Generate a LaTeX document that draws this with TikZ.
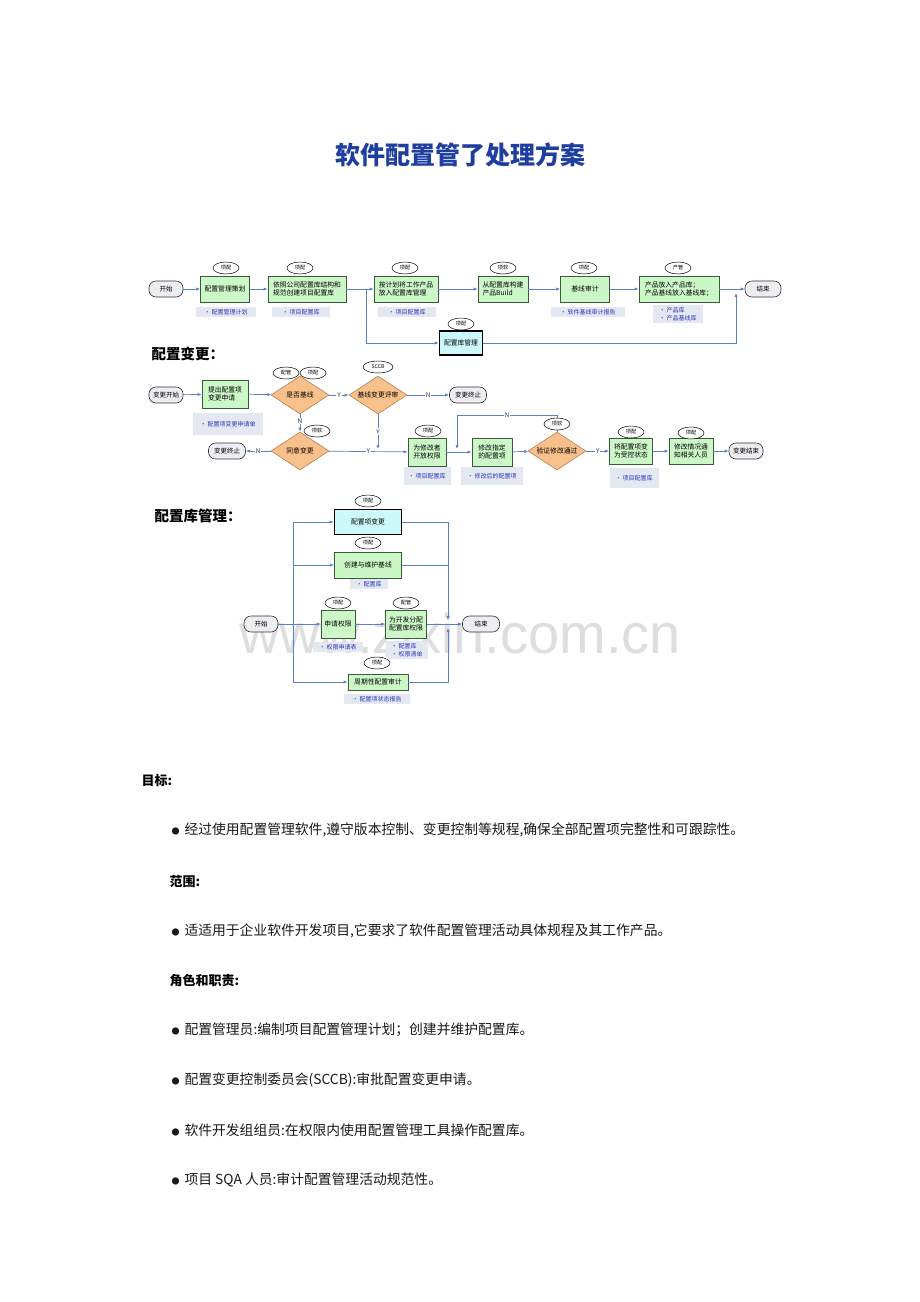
\documentclass[tikz,border=0pt]{standalone}
\usepackage{fontspec}
\setmainfont{Noto Sans CJK SC}
\newfontfamily\wmfont{Liberation Sans}
\usetikzlibrary{shapes.geometric,arrows.meta}

\definecolor{boxgreen}{HTML}{CCF8C8}
\definecolor{boxline}{HTML}{3A5A3A}
\definecolor{boxcyan}{HTML}{CCFAFC}
\definecolor{decfill}{HTML}{F8C08A}
\definecolor{decline}{HTML}{B88050}
\definecolor{flowblue}{HTML}{5A82C4}
\definecolor{notebg}{HTML}{E4E8F0}
\definecolor{notetext}{HTML}{2A35C0}
\definecolor{termfill}{HTML}{EDEDF2}
\definecolor{titleblue}{HTML}{1E3FA0}

\tikzset{
  task/.style={draw=boxline, fill=boxgreen, line width=0.7pt, minimum height=26pt,
    inner sep=1.5pt, align=left, font=\fontsize{6.8}{8.5}\selectfont},
  store/.style={draw=black, fill=boxcyan, line width=1.6pt, minimum height=24pt,
    inner sep=1.5pt, font=\fontsize{6.8}{8.5}\selectfont},
  decide/.style={diamond, draw=decline, fill=decfill, line width=0.6pt, aspect=1.5,
    inner sep=0pt, minimum width=58pt, minimum height=38pt, font=\fontsize{6.8}{8.5}\selectfont},
  term/.style={draw=black!80, fill=termfill, line width=0.6pt, rounded corners=7pt,
    minimum width=34pt, minimum height=16pt, inner sep=1pt, font=\fontsize{6.5}{8}\selectfont},
  role/.style={ellipse, draw=black, fill=white, line width=0.5pt, minimum width=26pt,
    minimum height=12pt, inner sep=0pt, font=\fontsize{5.2}{6}\selectfont},
  memo/.style={fill=notebg, text=notetext, align=left, inner sep=2pt,
    font=\fontsize{6}{8}\selectfont},
  flow/.style={draw=flowblue, line width=0.7pt, -{Latex[length=4pt,width=3.2pt]}},
  link/.style={draw=flowblue, line width=0.7pt},
  yn/.style={fill=white, inner sep=0.8pt, text=black!75, font=\fontsize{6.5}{7}\selectfont},
  heading/.style={anchor=west, font=\fontsize{14.5}{16}\selectfont\bfseries},
  body/.style={anchor=west, text=black!90, font=\fontsize{13.8}{15}\selectfont},
  bodyhead/.style={anchor=west, font=\fontsize{13}{15}\selectfont\bfseries}
}
\newcommand{\dotitem}{{\fontsize{8}{8}\selectfont ●}\hspace{5pt}}

\begin{document}
\begin{tikzpicture}[x=1pt,y=-1pt]
\useasboundingbox[fill=white] (0,0) rectangle (920,1302);

% watermark
\node[text=black!13, font=\wmfont\fontsize{56}{60}\selectfont] (wm) at (460,633) {www.zixin.com.cn};

\node[text=titleblue, font=\fontsize{25}{28}\selectfont\bfseries] (title) at (460,155) {软件配置管了处理方案};

% --- process overview
\node[term] (start) at (166,289) {开始};
\node[task, minimum width=49pt] (plan) at (225,289) {配置管理策划};
\node[task, minimum width=78pt] (create) at (307,289) {依照公司配置库结构和\\规范创建项目配置库};
\node[task, minimum width=64pt] (putin) at (406,289) {按计划将工作产品\\放入配置库管理};
\node[task, minimum width=50pt] (build) at (503,289) {从配置库构建\\产品Build};
\node[task, minimum width=49pt, align=center] (audit) at (585,289) {基线审计};
\node[task, minimum width=80pt] (release) at (679,289) {产品放入产品库；\\产品基线放入基线库；};
\node[term, minimum width=36pt] (finish) at (763,289) {结束};
\node[store, minimum width=43pt] (lib) at (461,343) {配置库管理};

\node[role] (r1) at (226,268) {项配};
\node[role] (r2) at (300,268) {项配};
\node[role] (r3) at (405,268) {项配};
\node[role] (r4) at (503,268) {项软};
\node[role] (r5) at (584,268) {项配};
\node[role] (r6) at (678,268) {产管};
\node[role] (r7) at (461,324) {项配};

\node[memo, minimum width=60pt] (m1) at (226,312) {• 配置管理计划};
\node[memo, minimum width=58pt] (m2) at (301,312) {• 项目配置库};
\node[memo, minimum width=58pt] (m3) at (407,312) {• 项目配置库};
\node[memo, minimum width=74pt] (m4) at (588,312) {• 软件基线审计报告};
\node[memo, minimum width=50pt] (m5) at (678,314) {• 产品库\\• 产品基线库};

\coordinate (j1) at (366,289);
\coordinate (j2) at (736,293);
\draw[flow] (start) -- (plan);
\draw[flow] (plan) -- (create);
\draw[flow] (create) -- (putin);
\draw[flow] (putin) -- (build);
\draw[flow] (build) -- (audit);
\draw[flow] (audit) -- (release);
\draw[flow] (release) -- (finish);
\draw[flow] (j1) |- (lib.west);
\draw[flow] (lib.east) -| (j2);

% --- change control
\node[heading] (h2) at (148,354) {配置变更：};

\node[term] (cstart) at (166,395) {变更开始};
\node[task, minimum width=46pt, minimum height=28pt] (req) at (225,394) {提出配置项\\变更申请};
\node[decide] (isbase) at (300,395) {是否基线};
\node[decide] (review) at (378,395) {基线变更评审};
\node[term, minimum width=37pt] (stop1) at (468,395) {变更终止};
\node[decide] (agree) at (300,451) {同意变更};
\node[term, minimum width=37pt] (stop2) at (227,451) {变更终止};
\node[task, minimum width=38pt, minimum height=28pt] (open) at (427,452) {为修改者\\开放权限};
\node[task, minimum width=40pt, minimum height=28pt] (modify) at (492,452) {修改指定\\的配置项};
\node[decide] (verify) at (557,451) {验证修改通过};
\node[task, minimum width=43pt] (ctrl) at (631,451) {将配置项变\\为受控状态};
\node[task, minimum width=44pt] (notify) at (691,451) {修改情况通\\知相关人员};
\node[term, minimum width=34pt] (cend) at (746,451) {变更结束};

\coordinate (yjoin) at (378,449);
\coordinate (loopA) at (457,415);
\coordinate (loopB) at (457,449);
\draw[flow] (cstart) -- (req);
\draw[flow] (req) -- (isbase);
\draw[flow] (isbase) -- node[yn]{Y} (review);
\draw[flow] (review) -- node[yn]{N} (stop1);
\draw[flow] (isbase) -- node[yn, pos=0.4]{N} (agree);
\draw[flow] (agree) -- node[yn]{N} (stop2);
\draw[flow] (agree) -- node[yn]{Y} (open);
\draw[flow] (review) -- node[yn]{Y} (yjoin);
\draw[flow] (open) -- (modify);
\draw[flow] (verify.north) |- node[yn, pos=0.75]{N} (loopA) -- (loopB);
\draw[flow] (modify) -- (verify);
\draw[flow] (verify) -- node[yn]{Y} (ctrl);
\draw[flow] (ctrl) -- (notify);
\draw[flow] (notify) -- (cend);

\node[role] (r8) at (286,373) {配管};
\node[role] (r9) at (313,373) {项配};
\node[role, minimum width=30pt] (r10) at (378,367) {SCCB};
\node[role] (r11) at (317,431) {项软};
\node[role] (r12) at (428,431) {项配};
\node[role] (r13) at (557,424) {项软};
\node[role] (r14) at (631,432) {项配};
\node[role] (r15) at (691,433) {项配};

\node[memo, minimum width=70pt, minimum height=22pt] (m6) at (228,424) {• 配置项变更申请单};
\node[memo, minimum width=47pt, minimum height=18pt] (m7) at (427,476) {• 项目配置库};
\node[memo, minimum width=62pt, minimum height=18pt] (m8) at (492,476) {• 修改后的配置项};
\node[memo, minimum width=49pt, minimum height=20pt] (m9) at (634,478) {• 项目配置库};

% --- repository management
\node[heading] (h3) at (151,516) {配置库管理：};

\node[term] (rstart) at (261,624) {开始};
\node[store, minimum width=67pt, minimum height=25pt] (chg) at (368,522) {配置项变更};
\node[task, minimum width=67pt] (base) at (368,565) {创建与维护基线};
\node[task, minimum width=34pt, minimum height=28pt] (apply) at (338,624) {申请权限};
\node[task, minimum width=41pt, minimum height=28pt] (grant) at (406,624) {为开发分配\\配置库权限};
\node[task, minimum width=60pt, minimum height=16pt] (check) at (378,682) {周期性配置审计};
\node[term, minimum width=37pt] (rend) at (481,624) {结束};

\coordinate (jl) at (293,624);
\coordinate (jr) at (448,620);
\coordinate (jm) at (448,624);
\coordinate (jr2) at (448,628);
\draw[flow] (rstart) -- (apply);
\draw[flow] (jl) |- (chg.west);
\draw[flow] (jl) |- (base.west);
\draw[flow] (jl) |- (check.west);
\draw[flow] (apply) -- (grant);
\draw[flow] (chg.east) -| (jr);
\draw[flow] (base.east) -| (jr);
\draw[flow] (check.east) -| (jr2);
\draw[link] (grant) -- (jm);
\draw[flow] (jm) -- (rend);

\node[role] (r16) at (368,501) {项配};
\node[role] (r17) at (368,543) {项配};
\node[role] (r18) at (338,603) {项配};
\node[role] (r19) at (406,603) {配管};
\node[role] (r20) at (377,663) {项配};

\node[memo, minimum width=38pt] (m10) at (369,584) {• 配置库};
\node[memo, minimum width=50pt] (m11) at (338,647) {• 权限申请表};
\node[memo, minimum width=42pt] (m12) at (407,650) {• 配置库\\• 权限清单};
\node[memo, minimum width=66pt] (m13) at (377,699) {• 配置项状态报告};

% --- text
\node[bodyhead] (goal) at (138,781) {目标:};
\node[body] (goal1) at (168,830) {\dotitem 经过使用配置管理软件,遵守版本控制、变更控制等规程,确保全部配置项完整性和可跟踪性。};
\node[bodyhead] (scope) at (166,882) {范围:};
\node[body] (scope1) at (168,931) {\dotitem 适适用于企业软件开发项目,它要求了软件配置管理活动具体规程及其工作产品。};
\node[bodyhead] (roles) at (166,981) {角色和职责:};
\node[body] (role1) at (168,1030) {\dotitem 配置管理员:编制项目配置管理计划；创建并维护配置库。};
\node[body] (role2) at (168,1080) {\dotitem 配置变更控制委员会(SCCB):审批配置变更申请。};
\node[body] (role3) at (168,1130) {\dotitem 软件开发组组员:在权限内使用配置管理工具操作配置库。};
\node[body] (role4) at (168,1180) {\dotitem 项目 SQA 人员:审计配置管理活动规范性。};
\end{tikzpicture}
\end{document}
